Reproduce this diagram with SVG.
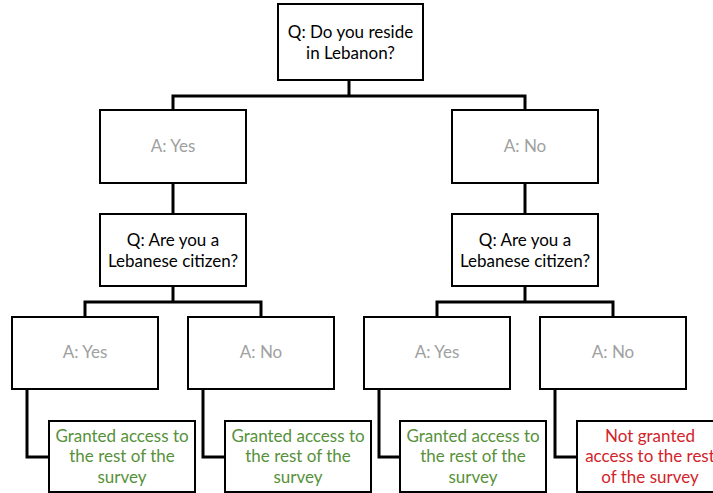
<svg xmlns="http://www.w3.org/2000/svg" width="713" height="493" viewBox="0 0 713 493">
<style>
.box{fill:#fff;stroke:#000;stroke-width:2}
.c{fill:none;stroke:#000;stroke-width:3}
text{font-family:Lato,"Liberation Sans",sans-serif;font-size:17px;text-anchor:middle}
.q{fill:#000}
.a{fill:#a0a0a0}
.g{fill:#56913a}
.r{fill:#d2232a}
</style>
<rect width="713" height="493" fill="#fff"/>
<g id="connectors">
<polyline class="c" points="349,80 349,96"/>
<polyline class="c" points="173,110 173,96 525,96 525,110"/>
<line class="c" x1="173" y1="183" x2="173" y2="214"/>
<line class="c" x1="525" y1="183" x2="525" y2="214"/>
<line class="c" x1="173" y1="286" x2="173" y2="302"/>
<polyline class="c" points="85,317 85,302 261,302 261,317"/>
<line class="c" x1="525" y1="286" x2="525" y2="302"/>
<polyline class="c" points="437,317 437,302 613,302 613,317"/>
<polyline class="c" points="27,389 27,457 49,457"/>
<polyline class="c" points="203,389 203,457 225,457"/>
<polyline class="c" points="379,389 379,457 400,457"/>
<polyline class="c" points="555,389 555,457 577,457"/>
</g>
<g id="q-reside"><rect class="box" x="278" y="4" width="145" height="76"/><text class="q" x="350.5" y="38">Q: Do you reside</text><text class="q" x="350.5" y="59">in Lebanon?</text></g>
<g id="a-yes"><rect class="box" x="100" y="110" width="146" height="73"/><text class="a" x="173" y="152">A: Yes</text></g>
<g id="a-no"><rect class="box" x="452" y="110" width="146" height="73"/><text class="a" x="525" y="152">A: No</text></g>
<g id="q-citizen-left"><rect class="box" x="100" y="214" width="146" height="72"/><text class="q" x="173" y="246">Q: Are you a</text><text class="q" x="173" y="267">Lebanese citizen?</text></g>
<g id="q-citizen-right"><rect class="box" x="452" y="214" width="146" height="72"/><text class="q" x="525" y="246">Q: Are you a</text><text class="q" x="525" y="267">Lebanese citizen?</text></g>
<g id="ll-yes"><rect class="box" x="12" y="317" width="146" height="72"/><text class="a" x="85" y="358">A: Yes</text></g>
<g id="ll-no"><rect class="box" x="188" y="317" width="146" height="72"/><text class="a" x="261" y="358">A: No</text></g>
<g id="rr-yes"><rect class="box" x="364" y="317" width="146" height="72"/><text class="a" x="437" y="358">A: Yes</text></g>
<g id="rr-no"><rect class="box" x="540" y="317" width="146" height="72"/><text class="a" x="613" y="358">A: No</text></g>
<g id="out1"><rect class="box" x="49" y="421" width="146" height="71"/><text class="g" x="122" y="442">Granted access to</text><text class="g" x="122" y="462">the rest of the</text><text class="g" x="122" y="483">survey</text></g>
<g id="out2"><rect class="box" x="225" y="421" width="146" height="71"/><text class="g" x="298" y="442">Granted access to</text><text class="g" x="298" y="462">the rest of the</text><text class="g" x="298" y="483">survey</text></g>
<g id="out3"><rect class="box" x="400" y="421" width="146" height="71"/><text class="g" x="473" y="442">Granted access to</text><text class="g" x="473" y="462">the rest of the</text><text class="g" x="473" y="483">survey</text></g>
<g id="out4"><rect class="box" x="577" y="421" width="146" height="71"/><text class="r" x="650" y="442">Not granted</text><text class="r" x="650" y="462">access to the rest</text><text class="r" x="650" y="483">of the survey</text></g>
</svg>
